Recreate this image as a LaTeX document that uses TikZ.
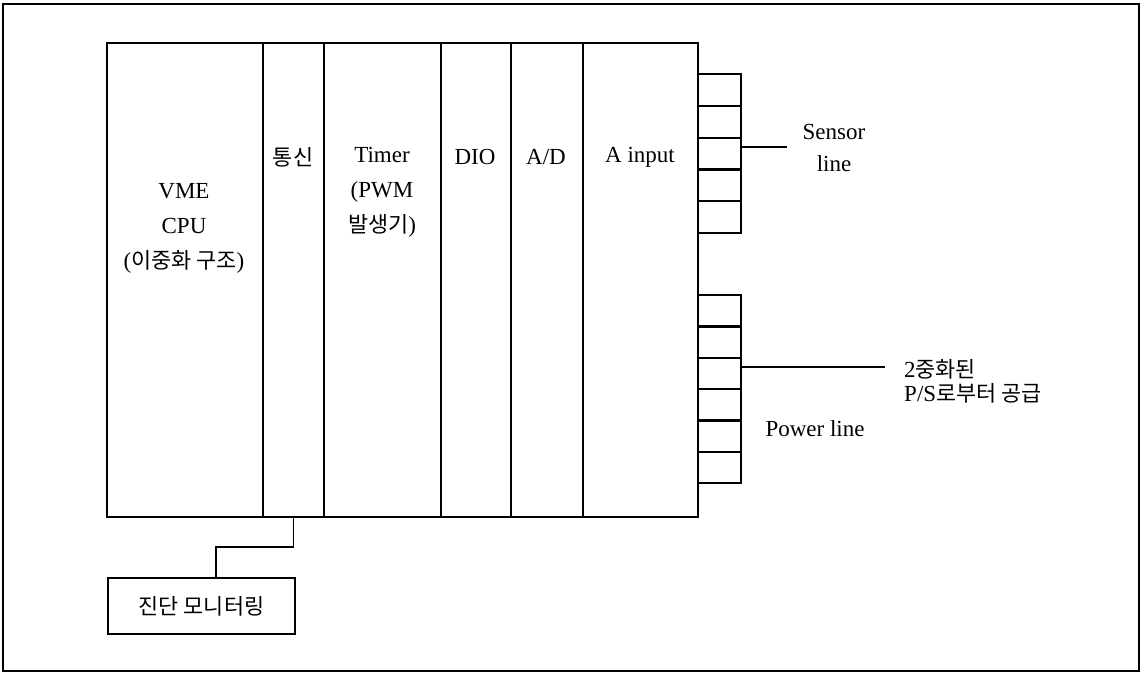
\documentclass[tikz,border=0pt]{standalone}
\usepackage{fontspec}
\setmainfont{Liberation Serif}
\newfontfamily\kr{Noto Sans CJK KR}[Scale=0.95]
\begin{document}
\begin{tikzpicture}[x=1pt,y=-1pt,
  col/.style={draw,line width=2.2pt,anchor=north west,inner sep=0pt,minimum height=474pt},
  tab/.style={draw,line width=2.2pt,anchor=north west,inner sep=0pt,minimum width=43pt},
  lbl/.style={font=\fontsize{23}{35}\selectfont,align=center,inner sep=0pt},
  wire/.style={line width=1.3pt}]
\useasboundingbox (0,0) rectangle (1147,674);
\draw[line width=2.4pt] (3,4) rectangle (1139,671);
% columns
\node[col,minimum width=156pt] (cpu) at (106,42) {};
\node[col,minimum width=61pt] (com) at (262,42) {};
\node[col,minimum width=117pt] (tim) at (323,42) {};
\node[col,minimum width=70pt] (dio) at (440,42) {};
\node[col,minimum width=72pt] (ad) at (510,42) {};
\node[col,minimum width=115pt] (ain) at (582,42) {};
% sensor tabs
\foreach \i in {1,...,5}{
  \node[tab,minimum height=31.8pt] (s\i) at (697,{73+(\i-1)*31.8}) {};
}
% power tabs
\foreach \i in {1,...,6}{
  \node[tab,minimum height=31.33pt] (p\i) at (697,{294+(\i-1)*31.33}) {};
}
% labels
\node[lbl] (tcpu) at (184,228) {VME\\CPU\\({\kr 이중화 구조})};
\node[lbl] (tcom) at (293,157) {\kr 통신};
\node[lbl] (ttim) at (382,192) {Timer\\(PWM\\{\kr 발생기})};
\node[lbl] (tdio) at (475,157) {DIO};
\node[lbl] (tad) at (546,157) {A/D};
\node[lbl] (tain) at (640,157) {A input};
% sensor line
\coordinate (send) at (787,147);
\draw[wire] (s3.east |- send) -- (send);
\node[lbl,font=\fontsize{23}{32}\selectfont] (tsen) at (834,148) {Sensor\\line};
% power line
\coordinate (pend) at (885,367);
\draw[wire] (p3.east |- pend) -- (pend);
\node[lbl,align=left,anchor=west,font=\fontsize{23}{24}\selectfont] (tps) at (904,381) {2{\kr 중화된}\\P/S{\kr 로부터 공급}};
\node[lbl] (tpow) at (815,429) {Power line};
% diagnostic monitor
\node[draw,line width=2.2pt,minimum width=187pt,minimum height=56pt,inner sep=0pt,font=\fontsize{23}{24}\selectfont\kr] (diag) at (201.5,606) {진단 모니터링};
\coordinate (bend) at (216,547);
\draw[wire] (com.south) |- (bend) -- (bend |- diag.north);
\end{tikzpicture}
\end{document}
